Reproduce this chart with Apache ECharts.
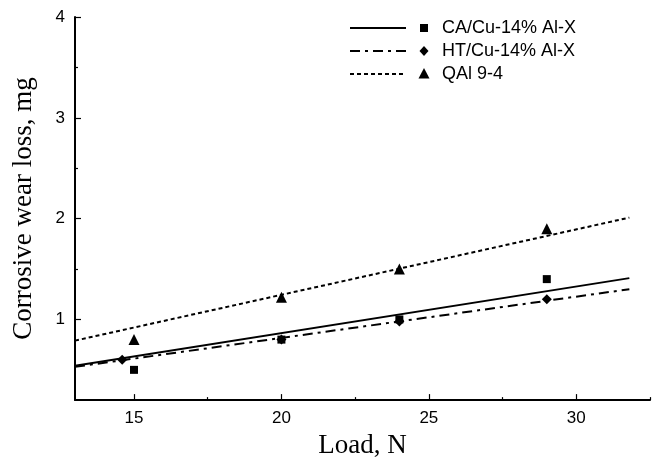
<!DOCTYPE html>
<html>
<head>
<meta charset="utf-8">
<script src="https://cdn.jsdelivr.net/npm/echarts@6/dist/echarts.min.js"></script>
<style>
  html, body { margin: 0; padding: 0; background: #fff; }
  #chart { width: 652px; height: 464px; }
</style>
</head>
<body>
<div id="chart"></div>
<script>
// Measured wear loss (mg) against applied load (N)
const caLoad = [15, 20, 24, 29];
const caLoss = [0.5, 0.8, 1.0, 1.4];
const htLoad = [14.6, 20, 24, 29];
const htLoss = [0.6, 0.8, 0.98, 1.2];
const qalLoad = [15, 20, 24, 29];
const qalLoss = [0.8, 1.22, 1.5, 1.9];

// Fitted trend lines, evaluated at the ends of the load range
const fitLoad = [13, 31.8];
const caFit = [0.54, 1.41];
const htFit = [0.53, 1.30];
const qalFit = [0.79, 2.01];

// Axis ticks and labels
const xMajor = [15, 20, 25, 30];
const xMinor = [17.5, 22.5, 27.5, 32.5];
const yMajor = [1, 2, 3, 4];
const yMinor = [1.5, 2.5, 3.5];

const names = ['CA/Cu-14% Al-X', 'HT/Cu-14% Al-X', 'QAl 9-4'];

const pairs = (xs, ys) => xs.map((x, i) => [x, ys[i]]);

const sans = 'Liberation Sans';
const serif = 'Liberation Serif';
const dashDot = [10, 5, 3, 5];
const dotted = [4, 3];

const baseX = {
  type: 'value', min: 13, max: 32.5, gridIndex: 0, position: 'bottom',
  splitLine: { show: false },
  axisLine: { show: true, lineStyle: { color: '#000', width: 2 } }
};
const baseY = {
  type: 'value', min: 0.2, max: 4, gridIndex: 0, position: 'left',
  splitLine: { show: false },
  axisLine: { show: true, lineStyle: { color: '#000', width: 2 } }
};

// Legend: line sample, marker and caption per row
const legendRows = [
  { y: 28, dash: null, mark: 'square' },
  { y: 51, dash: dashDot, mark: 'diamond' },
  { y: 74, dash: dotted, mark: 'triangle' }
];
const lineX1 = 350, lineX2 = 406, markX = 424, textX = 442;
const legendGraphics = [];
legendRows.forEach((row, i) => {
  const style = { stroke: '#000', lineWidth: 2 };
  if (row.dash) style.lineDash = row.dash;
  legendGraphics.push({ type: 'line', shape: { x1: lineX1, y1: row.y, x2: lineX2, y2: row.y }, style: style });
  if (row.mark === 'square') {
    legendGraphics.push({ type: 'rect', shape: { x: markX - 4, y: row.y - 4, width: 8, height: 8 }, style: { fill: '#000' } });
  } else if (row.mark === 'diamond') {
    legendGraphics.push({ type: 'polygon', shape: { points: [[markX, row.y - 5], [markX + 4.5, row.y], [markX, row.y + 5], [markX - 4.5, row.y]] }, style: { fill: '#000' } });
  } else {
    legendGraphics.push({ type: 'polygon', shape: { points: [[markX, row.y - 6], [markX + 5.5, row.y + 4.5], [markX - 5.5, row.y + 4.5]] }, style: { fill: '#000' } });
  }
  legendGraphics.push({ type: 'text', x: textX, y: row.y, style: { text: names[i], fill: '#000', font: '18px "' + sans + '"', verticalAlign: 'middle', align: 'left' } });
});

const chart = echarts.init(document.getElementById('chart'), null, { renderer: 'canvas' });

chart.setOption({
  animation: false,
  backgroundColor: '#fff',
  grid: { left: 75, right: 2, top: 17, bottom: 59, containLabel: false },
  xAxis: [
    Object.assign({}, baseX, {
      name: 'Load, N', nameLocation: 'middle', nameGap: 26,
      nameTextStyle: { fontFamily: serif, fontSize: 27, color: '#000', verticalAlign: 'top' },
      axisTick: { show: true, inside: true, length: 6, customValues: xMajor, lineStyle: { color: '#000', width: 1.2 } },
      axisLabel: { show: true, customValues: xMajor, margin: 10, fontFamily: sans, fontSize: 17, color: '#000' }
    }),
    Object.assign({}, baseX, {
      axisLine: { show: false },
      axisTick: { show: true, inside: true, length: 3, customValues: xMinor, lineStyle: { color: '#000', width: 1.2 } },
      axisLabel: { show: false }
    })
  ],
  yAxis: [
    Object.assign({}, baseY, {
      name: 'Corrosive wear loss, mg', nameLocation: 'middle', nameGap: 38,
      nameTextStyle: { fontFamily: serif, fontSize: 27, color: '#000' },
      axisTick: { show: true, inside: true, length: 6, customValues: yMajor, lineStyle: { color: '#000', width: 1.2 } },
      axisLabel: { show: true, customValues: yMajor, margin: 10, fontFamily: sans, fontSize: 17, color: '#000' }
    }),
    Object.assign({}, baseY, {
      axisLine: { show: false },
      axisTick: { show: true, inside: true, length: 3, customValues: yMinor, lineStyle: { color: '#000', width: 1.2 } },
      axisLabel: { show: false }
    })
  ],
  graphic: legendGraphics,
  series: [
    { type: 'line', data: pairs(fitLoad, caFit), symbol: 'none', silent: true,
      lineStyle: { color: '#000', width: 2 } },
    { type: 'line', data: pairs(fitLoad, htFit), symbol: 'none', silent: true,
      lineStyle: { color: '#000', width: 2, type: dashDot } },
    { type: 'line', data: pairs(fitLoad, qalFit), symbol: 'none', silent: true,
      lineStyle: { color: '#000', width: 2, type: dotted } },
    { name: names[0], type: 'scatter', data: pairs(caLoad, caLoss), symbol: 'rect', symbolSize: 8,
      itemStyle: { color: '#000', opacity: 1 } },
    { name: names[1], type: 'scatter', data: pairs(htLoad, htLoss), symbol: 'diamond', symbolSize: 10,
      itemStyle: { color: '#000', opacity: 1 } },
    { name: names[2], type: 'scatter', data: pairs(qalLoad, qalLoss), symbol: 'triangle', symbolSize: 11,
      itemStyle: { color: '#000', opacity: 1 } }
  ]
});
</script>
</body>
</html>
